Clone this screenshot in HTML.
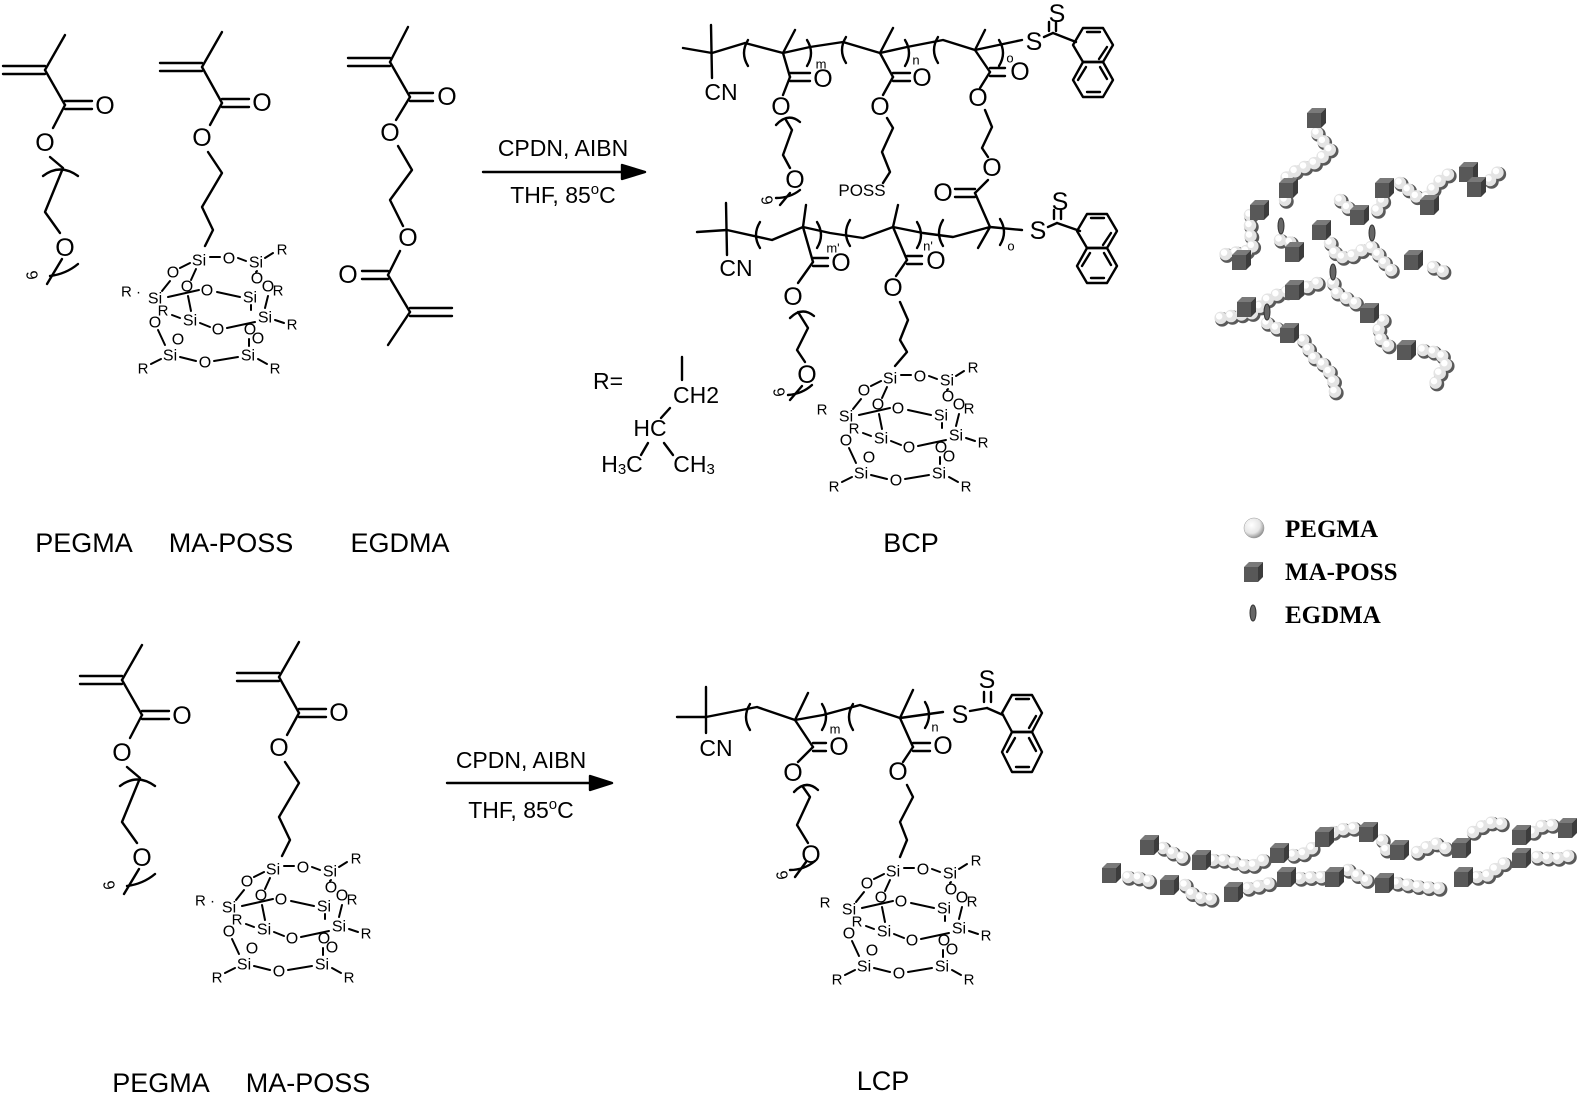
<!DOCTYPE html>
<html><head><meta charset="utf-8"><style>
html,body{margin:0;padding:0;background:#fff;}
svg{display:block;}
text{font-family:"Liberation Sans",sans-serif;fill:#000;}
.b line,.b polyline,.b path,.b polygon{stroke:#000;stroke-width:2.4;fill:none;stroke-linecap:round;stroke-linejoin:round;}
.a{font-size:25px;text-anchor:middle;dominant-baseline:central;}
.s{font-size:16px;text-anchor:middle;dominant-baseline:central;}
.r{font-size:15px;text-anchor:middle;dominant-baseline:central;}
.sub{font-size:13px;text-anchor:middle;dominant-baseline:central;}
.lab{font-size:27px;text-anchor:middle;}
.leg{font-family:"Liberation Serif",serif;font-weight:bold;font-size:25px;}
.cage line{stroke-width:2;}
</style></head><body>
<svg width="1596" height="1097" viewBox="0 0 1596 1097" xmlns="http://www.w3.org/2000/svg">
<defs>
<radialGradient id="sg" cx="0.38" cy="0.35" r="0.7">
<stop offset="0" stop-color="#fff"/><stop offset="0.6" stop-color="#e6e6e6"/><stop offset="1" stop-color="#888"/>
</radialGradient>
<g id="cube">
<polygon points="-8,-5 -3,-10 11,-10 6,-5" fill="#7a7a7a"/>
<polygon points="6,-5 11,-10 11,5 6,10" fill="#3c3c3c"/>
<rect x="-8" y="-5" width="14" height="15" fill="#585858"/>
</g>
<g id="egd"><ellipse cx="0" cy="0" rx="3" ry="8" fill="#666" stroke="#333" stroke-width="1"/></g>
</defs>

<g class="b">
<g id="peg">
<line x1="65" y1="35" x2="45" y2="70"/>
<line x1="3" y1="66" x2="45" y2="66"/><line x1="3" y1="74" x2="45" y2="74"/>
<line x1="45" y1="70" x2="65" y2="105"/>
<line x1="65" y1="101" x2="92" y2="101"/><line x1="65" y1="109" x2="92" y2="109"/>
<line x1="65" y1="105" x2="53" y2="128"/>
<polyline points="50,157 63,168 45,212 60,233"/>
<path d="M43,176 Q60,163 78,176"/>
<line x1="62" y1="259" x2="47" y2="284"/>
<path d="M50,276 Q66,274 78,264"/>
</g>
<g id="map">
<line x1="222" y1="32" x2="202" y2="67"/>
<line x1="160" y1="63" x2="202" y2="63"/><line x1="160" y1="71" x2="202" y2="71"/>
<line x1="202" y1="67" x2="222" y2="103"/>
<line x1="222" y1="99" x2="249" y2="99"/><line x1="222" y1="107" x2="249" y2="107"/>
<line x1="222" y1="103" x2="210" y2="125"/>
<polyline points="208,152 222,173 202,207 213,230 205,246"/>
</g>
<line x1="408" y1="27" x2="390" y2="62"/>
<line x1="348" y1="58" x2="390" y2="58"/><line x1="348" y1="66" x2="390" y2="66"/>
<line x1="390" y1="62" x2="410" y2="97"/>
<line x1="410" y1="93" x2="433" y2="93"/><line x1="410" y1="101" x2="433" y2="101"/>
<line x1="410" y1="97" x2="396" y2="120"/>
<polyline points="398,146 412,170 390,200 403,226"/>
<line x1="400" y1="251" x2="388" y2="275"/>
<line x1="362" y1="271" x2="388" y2="271"/><line x1="362" y1="279" x2="388" y2="279"/>
<line x1="388" y1="275" x2="410" y2="312"/>
<line x1="410" y1="308" x2="452" y2="308"/><line x1="410" y1="316" x2="452" y2="316"/>
<line x1="410" y1="312" x2="388" y2="345"/>

<line x1="483" y1="172" x2="630" y2="172"/>
<polygon points="645,172 622,165 622,179" style="fill:#000"/>
<line x1="447" y1="783" x2="595" y2="783"/>
<polygon points="612,783 590,776 590,790" style="fill:#000"/>

<line x1="683" y1="48" x2="712" y2="53"/>
<line x1="711" y1="25" x2="712" y2="78"/>
<polyline points="712,53 745,43 783,53 810,47 843,42 880,53 907,47 943,40 975,50 1022,40"/>
<line x1="783" y1="53" x2="795" y2="30"/>
<line x1="880" y1="53" x2="893" y2="28"/>
<line x1="975" y1="50" x2="985" y2="30"/>
<path d="M748,40 Q740,53 748,66"/><path d="M807,40 Q815,53 807,66"/>
<path d="M846,37 Q838,50 846,63"/><path d="M905,40 Q913,53 905,66"/>
<path d="M938,37 Q930,50 938,63"/><path d="M999,40 Q1007,53 999,66"/>
<line x1="1044" y1="37" x2="1053" y2="33"/>
<line x1="1053" y1="33" x2="1076" y2="42"/>
<line x1="1049" y1="22" x2="1049" y2="31"/><line x1="1056" y1="22" x2="1056" y2="31"/>
<polygon points="1073,45 1083,28 1103,28 1113,45 1103,62 1083,62"/>
<polygon points="1073,80 1083,62 1103,62 1113,80 1103,97 1083,97"/>
<line x1="1087" y1="32" x2="1100" y2="32"/><line x1="1107" y1="47" x2="1099" y2="59"/>
<line x1="1078" y1="80" x2="1086" y2="67"/><line x1="1087" y1="92" x2="1100" y2="92"/><line x1="1107" y1="79" x2="1100" y2="67"/>
<line x1="783" y1="53" x2="790" y2="77"/>
<line x1="790" y1="73" x2="810" y2="73"/><line x1="790" y1="81" x2="810" y2="81"/>
<line x1="790" y1="77" x2="783" y2="95"/>
<polyline points="786,120 792,130 783,155 790,168"/>
<path d="M776,125 Q788,112 800,122"/>
<path d="M776,198 Q790,198 800,190"/><line x1="790" y1="193" x2="780" y2="205"/>
<line x1="880" y1="53" x2="893" y2="77"/>
<line x1="893" y1="73" x2="910" y2="73"/><line x1="893" y1="81" x2="910" y2="81"/>
<line x1="893" y1="77" x2="883" y2="95"/>
<polyline points="887,118 893,128 882,152 890,172 883,183"/>
<line x1="975" y1="50" x2="990" y2="72"/>
<line x1="990" y1="68" x2="1005" y2="68"/><line x1="990" y1="76" x2="1005" y2="76"/>
<line x1="990" y1="72" x2="980" y2="88"/>
<polyline points="985,110 992,127 982,148 988,157"/>
<line x1="988" y1="180" x2="975" y2="193"/>
<line x1="955" y1="189" x2="975" y2="189"/><line x1="955" y1="197" x2="975" y2="197"/>
<line x1="975" y1="193" x2="990" y2="227"/>
<line x1="697" y1="232" x2="727" y2="230"/>
<line x1="726" y1="203" x2="727" y2="255"/>
<polyline points="727,230 772,240 803,227 830,233 863,238 893,227 923,233 953,237 990,227 1022,230"/>
<line x1="803" y1="227" x2="806" y2="205"/>
<line x1="893" y1="227" x2="898" y2="205"/>
<line x1="990" y1="227" x2="978" y2="248"/>
<path d="M760,222 Q752,235 760,248"/><path d="M817,222 Q825,235 817,248"/>
<path d="M850,220 Q842,233 850,246"/><path d="M917,222 Q925,235 917,248"/>
<path d="M943,220 Q935,233 943,246"/><path d="M1000,219 Q1008,232 1000,245"/>
<line x1="1048" y1="227" x2="1057" y2="223"/>
<line x1="1057" y1="223" x2="1080" y2="231"/>
<line x1="1054" y1="210" x2="1054" y2="219"/><line x1="1061" y1="210" x2="1061" y2="219"/>
<polygon points="1077,231 1087,214 1107,214 1117,231 1107,248 1087,248"/>
<polygon points="1077,266 1087,248 1107,248 1117,266 1107,283 1087,283"/>
<line x1="1091" y1="218" x2="1104" y2="218"/><line x1="1111" y1="233" x2="1103" y2="245"/>
<line x1="1082" y1="266" x2="1090" y2="253"/><line x1="1091" y1="278" x2="1104" y2="278"/><line x1="1111" y1="265" x2="1104" y2="253"/>
<line x1="803" y1="227" x2="813" y2="262"/>
<line x1="813" y1="258" x2="828" y2="258"/><line x1="813" y1="266" x2="828" y2="266"/>
<line x1="813" y1="262" x2="798" y2="283"/>
<polyline points="798,312 808,328 797,350 805,362"/>
<path d="M790,318 Q802,306 814,316"/>
<path d="M788,395 Q802,394 812,385"/><line x1="802" y1="386" x2="790" y2="400"/>
<line x1="893" y1="227" x2="907" y2="260"/>
<line x1="907" y1="256" x2="922" y2="256"/><line x1="907" y1="264" x2="922" y2="264"/>
<line x1="907" y1="260" x2="896" y2="276"/>
<polyline points="900,302 908,320 900,340 907,352 895,366"/>
<line x1="682" y1="357" x2="682" y2="380"/>
<line x1="670" y1="408" x2="661" y2="418"/>
<line x1="648" y1="443" x2="641" y2="455"/>
<line x1="664" y1="443" x2="673" y2="455"/>

<g transform="translate(77,610)">
<line x1="65" y1="35" x2="45" y2="70"/>
<line x1="3" y1="66" x2="45" y2="66"/><line x1="3" y1="74" x2="45" y2="74"/>
<line x1="45" y1="70" x2="65" y2="105"/>
<line x1="65" y1="101" x2="92" y2="101"/><line x1="65" y1="109" x2="92" y2="109"/>
<line x1="65" y1="105" x2="53" y2="128"/>
<polyline points="50,157 63,168 45,212 60,233"/>
<path d="M43,176 Q60,163 78,176"/>
<line x1="62" y1="259" x2="47" y2="284"/>
<path d="M50,276 Q66,274 78,264"/>
<line x1="222" y1="32" x2="202" y2="67"/>
<line x1="160" y1="63" x2="202" y2="63"/><line x1="160" y1="71" x2="202" y2="71"/>
<line x1="202" y1="67" x2="222" y2="103"/>
<line x1="222" y1="99" x2="249" y2="99"/><line x1="222" y1="107" x2="249" y2="107"/>
<line x1="222" y1="103" x2="210" y2="125"/>
<polyline points="208,152 222,173 202,207 213,230 205,246"/>
</g>

<line x1="677" y1="717" x2="706" y2="717"/>
<line x1="706" y1="687" x2="706" y2="733"/>
<polyline points="706,717 757,707 795,720 823,715 860,705 900,718 943,712"/>
<line x1="795" y1="720" x2="808" y2="693"/>
<line x1="900" y1="718" x2="913" y2="690"/>
<path d="M750,704 Q742,717 750,730"/><path d="M822,704 Q830,717 822,730"/>
<path d="M853,704 Q845,717 853,730"/><path d="M925,702 Q933,715 925,728"/>
<line x1="970" y1="711" x2="987" y2="708"/>
<line x1="987" y1="708" x2="1003" y2="715"/>
<line x1="984" y1="692" x2="984" y2="702"/><line x1="991" y1="692" x2="991" y2="702"/>
<polygon points="1002,713 1012,695 1032,695 1042,713 1032,732 1012,732"/>
<polygon points="1002,752 1012,732 1032,732 1042,752 1032,772 1012,772"/>
<line x1="1016" y1="699" x2="1029" y2="699"/><line x1="1036" y1="716" x2="1029" y2="728"/>
<line x1="1007" y1="752" x2="1015" y2="738"/><line x1="1016" y1="767" x2="1029" y2="767"/><line x1="1036" y1="751" x2="1029" y2="738"/>
<line x1="795" y1="720" x2="813" y2="747"/>
<line x1="813" y1="743" x2="826" y2="743"/><line x1="813" y1="751" x2="826" y2="751"/>
<line x1="813" y1="747" x2="798" y2="762"/>
<polyline points="803,787 810,797 797,825 808,843"/>
<path d="M794,792 Q806,779 818,790"/>
<path d="M790,870 Q804,870 815,861"/><line x1="806" y1="862" x2="795" y2="877"/>
<line x1="900" y1="718" x2="913" y2="747"/>
<line x1="913" y1="743" x2="930" y2="743"/><line x1="913" y1="751" x2="930" y2="751"/>
<line x1="913" y1="747" x2="903" y2="762"/>
<polyline points="907,785 913,797 900,822 907,840 900,857"/>
</g>

<text class="a" x="105" y="106">O</text><text class="a" x="45" y="143">O</text><text class="a" x="65" y="248">O</text>
<text class="s" x="33" y="275" transform="rotate(-100 33 275)">6</text>
<text class="a" x="262" y="103">O</text><text class="a" x="202" y="138">O</text>
<text class="a" x="447" y="97">O</text><text class="a" x="390" y="133">O</text><text class="a" x="408" y="238">O</text><text class="a" x="348" y="275">O</text>
<g transform="translate(77,610)">
<text class="a" x="105" y="106">O</text><text class="a" x="45" y="143">O</text><text class="a" x="65" y="248">O</text>
<text class="s" x="33" y="275" transform="rotate(-100 33 275)">6</text>
<text class="a" x="262" y="103">O</text><text class="a" x="202" y="138">O</text>
</g>
<text x="563" y="156" style="font-size:23px;text-anchor:middle">CPDN, AIBN</text>
<text x="563" y="203" style="font-size:23px;text-anchor:middle">THF, 85<tspan dy="-9" style="font-size:15px">o</tspan><tspan dy="9">C</tspan></text>
<text x="521" y="768" style="font-size:23px;text-anchor:middle">CPDN, AIBN</text>
<text x="521" y="818" style="font-size:23px;text-anchor:middle">THF, 85<tspan dy="-9" style="font-size:15px">o</tspan><tspan dy="9">C</tspan></text>

<text class="a" x="721" y="92" style="font-size:23px">CN</text>
<text class="sub" x="821" y="64">m</text><text class="sub" x="916" y="60">n</text><text class="sub" x="1010" y="58">o</text>
<text class="a" x="1034" y="42">S</text><text class="a" x="1057" y="14">S</text>
<text class="a" x="823" y="79">O</text><text class="a" x="781" y="107">O</text><text class="a" x="795" y="180">O</text>
<text class="s" x="768" y="200" transform="rotate(-100 768 200)">6</text>
<text class="a" x="922" y="78">O</text><text class="a" x="880" y="107">O</text>
<text x="862" y="196" style="font-size:17px;text-anchor:middle">POSS</text>
<text class="a" x="1020" y="72">O</text><text class="a" x="978" y="98">O</text><text class="a" x="992" y="168">O</text><text class="a" x="943" y="193">O</text>
<text class="a" x="736" y="268" style="font-size:23px">CN</text>
<text class="sub" x="833" y="248">m'</text><text class="sub" x="928" y="246">n'</text><text class="sub" x="1011" y="246">o</text>
<text class="a" x="1038" y="231">S</text><text class="a" x="1060" y="202">S</text>
<text class="a" x="841" y="263">O</text><text class="a" x="793" y="297">O</text><text class="a" x="807" y="375">O</text>
<text class="s" x="780" y="392" transform="rotate(-100 780 392)">6</text>
<text class="a" x="936" y="261">O</text><text class="a" x="893" y="288">O</text>
<text class="a" x="608" y="381" style="font-size:23px">R=</text>
<text class="a" x="696" y="395" style="font-size:23px">CH2</text>
<text class="a" x="650" y="428" style="font-size:23px">HC</text>
<text class="a" x="622" y="464" style="font-size:23px">H<tspan dy="5" style="font-size:15px">3</tspan><tspan dy="-5">C</tspan></text>
<text class="a" x="694" y="464" style="font-size:23px">CH<tspan dy="5" style="font-size:15px">3</tspan></text>
<text class="a" x="716" y="748" style="font-size:23px">CN</text>
<text class="sub" x="835" y="729">m</text><text class="sub" x="935" y="727">n</text>
<text class="a" x="960" y="715">S</text><text class="a" x="987" y="680">S</text>
<text class="a" x="839" y="747">O</text><text class="a" x="793" y="773">O</text><text class="a" x="811" y="855">O</text>
<text class="s" x="783" y="875" transform="rotate(-100 783 875)">6</text>
<text class="a" x="943" y="746">O</text><text class="a" x="898" y="772">O</text>

<g class="b cage" transform="translate(199,257)" id="cage1">
<line x1="11" y1="0" x2="21" y2="0"/><line x1="39" y1="1" x2="47" y2="4"/><line x1="66" y1="1" x2="74" y2="-4"/>
<line x1="-9" y1="6" x2="-19" y2="11"/><line x1="-3" y1="12" x2="-8" y2="23"/>
<line x1="-29" y1="24" x2="-37" y2="34"/><line x1="-31" y1="40" x2="0" y2="33"/>
<line x1="-11" y1="39" x2="-8" y2="54"/><line x1="18" y1="35" x2="41" y2="40"/>
<line x1="58" y1="14" x2="57" y2="15"/><line x1="52" y1="48" x2="52" y2="53"/>
<line x1="66" y1="51" x2="69" y2="39"/><line x1="1" y1="66" x2="11" y2="70"/>
<line x1="28" y1="71" x2="56" y2="65"/><line x1="-19" y1="61" x2="-27" y2="58"/>
<line x1="-41" y1="73" x2="-34" y2="88"/><line x1="-19" y1="100" x2="-3" y2="104"/>
<line x1="15" y1="104" x2="39" y2="100"/><line x1="50" y1="89" x2="50" y2="82"/>
<line x1="-38" y1="102" x2="-48" y2="107"/><line x1="59" y1="102" x2="68" y2="107"/>
<line x1="76" y1="63" x2="85" y2="66"/>
</g>
<g transform="translate(199,257)">
<text class="s" x="0" y="4">Si</text><text class="s" x="30" y="2">O</text><text class="s" x="57" y="6">Si</text><text class="r" x="83" y="-7">R</text>
<text class="s" x="-26" y="16">O</text><text class="s" x="-12" y="30">O</text><text class="s" x="8" y="34">O</text>
<text class="s" x="58" y="22">O</text><text class="s" x="69" y="30">O</text><text class="r" x="79" y="34">R</text>
<text class="s" x="51" y="41">Si</text><text class="r" x="-68" y="35">R ·</text><text class="s" x="-44" y="42">Si</text>
<text class="r" x="-36" y="54">R</text><text class="s" x="-9" y="64">Si</text><text class="s" x="19" y="73">O</text>
<text class="s" x="66" y="61">Si</text><text class="r" x="93" y="68">R</text>
<text class="s" x="-44" y="66">O</text><text class="s" x="-21" y="83">O</text><text class="s" x="51" y="73">O</text><text class="s" x="59" y="82">O</text>
<text class="s" x="-29" y="99">Si</text><text class="s" x="6" y="106">O</text><text class="s" x="49" y="99">Si</text>
<text class="r" x="-56" y="112">R</text><text class="r" x="76" y="112">R</text>
</g>
<use href="#cage1" transform="translate(691,118)"/>
<use href="#cage1" transform="translate(694,611)"/>
<use href="#cage1" transform="translate(74,609)"/>
<g transform="translate(890,375)">
<text class="s" x="0" y="4">Si</text><text class="s" x="30" y="2">O</text><text class="s" x="57" y="6">Si</text><text class="r" x="83" y="-7">R</text>
<text class="s" x="-26" y="16">O</text><text class="s" x="-12" y="30">O</text><text class="s" x="8" y="34">O</text>
<text class="s" x="58" y="22">O</text><text class="s" x="69" y="30">O</text><text class="r" x="79" y="34">R</text>
<text class="s" x="51" y="41">Si</text><text class="r" x="-68" y="35">R</text><text class="s" x="-44" y="42">Si</text>
<text class="r" x="-36" y="54">R</text><text class="s" x="-9" y="64">Si</text><text class="s" x="19" y="73">O</text>
<text class="s" x="66" y="61">Si</text><text class="r" x="93" y="68">R</text>
<text class="s" x="-44" y="66">O</text><text class="s" x="-21" y="83">O</text><text class="s" x="51" y="73">O</text><text class="s" x="59" y="82">O</text>
<text class="s" x="-29" y="99">Si</text><text class="s" x="6" y="106">O</text><text class="s" x="49" y="99">Si</text>
<text class="r" x="-56" y="112">R</text><text class="r" x="76" y="112">R</text>
</g>
<g transform="translate(893,868)">
<text class="s" x="0" y="4">Si</text><text class="s" x="30" y="2">O</text><text class="s" x="57" y="6">Si</text><text class="r" x="83" y="-7">R</text>
<text class="s" x="-26" y="16">O</text><text class="s" x="-12" y="30">O</text><text class="s" x="8" y="34">O</text>
<text class="s" x="58" y="22">O</text><text class="s" x="69" y="30">O</text><text class="r" x="79" y="34">R</text>
<text class="s" x="51" y="41">Si</text><text class="r" x="-68" y="35">R</text><text class="s" x="-44" y="42">Si</text>
<text class="r" x="-36" y="54">R</text><text class="s" x="-9" y="64">Si</text><text class="s" x="19" y="73">O</text>
<text class="s" x="66" y="61">Si</text><text class="r" x="93" y="68">R</text>
<text class="s" x="-44" y="66">O</text><text class="s" x="-21" y="83">O</text><text class="s" x="51" y="73">O</text><text class="s" x="59" y="82">O</text>
<text class="s" x="-29" y="99">Si</text><text class="s" x="6" y="106">O</text><text class="s" x="49" y="99">Si</text>
<text class="r" x="-56" y="112">R</text><text class="r" x="76" y="112">R</text>
</g>
<g transform="translate(273,866)">
<text class="s" x="0" y="4">Si</text><text class="s" x="30" y="2">O</text><text class="s" x="57" y="6">Si</text><text class="r" x="83" y="-7">R</text>
<text class="s" x="-26" y="16">O</text><text class="s" x="-12" y="30">O</text><text class="s" x="8" y="34">O</text>
<text class="s" x="58" y="22">O</text><text class="s" x="69" y="30">O</text><text class="r" x="79" y="34">R</text>
<text class="s" x="51" y="41">Si</text><text class="r" x="-68" y="35">R ·</text><text class="s" x="-44" y="42">Si</text>
<text class="r" x="-36" y="54">R</text><text class="s" x="-9" y="64">Si</text><text class="s" x="19" y="73">O</text>
<text class="s" x="66" y="61">Si</text><text class="r" x="93" y="68">R</text>
<text class="s" x="-44" y="66">O</text><text class="s" x="-21" y="83">O</text><text class="s" x="51" y="73">O</text><text class="s" x="59" y="82">O</text>
<text class="s" x="-29" y="99">Si</text><text class="s" x="6" y="106">O</text><text class="s" x="49" y="99">Si</text>
<text class="r" x="-56" y="112">R</text><text class="r" x="76" y="112">R</text>
</g>

<text class="lab" x="84" y="552">PEGMA</text>
<text class="lab" x="231" y="552">MA-POSS</text>
<text class="lab" x="400" y="552">EGDMA</text>
<text class="lab" x="911" y="552">BCP</text>
<text class="lab" x="161" y="1092">PEGMA</text>
<text class="lab" x="308" y="1092">MA-POSS</text>
<text class="lab" x="883" y="1090">LCP</text>

<g fill="none" stroke-linecap="round" stroke-linejoin="round">
<g id="beads">
<path d="M1317,133 L1330,150 L1317,162 L1297,170 L1283,180 M1250,215 L1250,233 L1253,250 L1233,253 L1220,255 M1280,240 L1300,245 M1330,243 L1337,257 L1350,257 L1367,247 L1373,247 L1380,257 L1390,270 L1400,270 M1340,200 L1350,210 M1377,210 L1383,200 M1400,183 L1417,197 L1427,197 L1437,183 L1450,173 M1490,180 L1498,172 M1433,267 L1447,273 M1317,283 L1307,287 L1280,293 L1267,300 L1253,313 L1237,315 L1220,318 M1267,323 L1280,330 M1303,340 L1313,357 L1327,367 L1333,380 L1335,392 M1333,283 L1337,293 L1350,300 L1363,307 M1383,320 L1377,333 L1383,343 L1393,348 M1423,350 L1440,353 L1447,363 L1437,377 L1433,392 M1285,200 L1285,202"/>
<path d="M1163,848 L1177,855 L1188,860 M1213,860 L1227,860 L1250,867 L1263,860 M1293,855 L1307,853 L1313,847 M1333,832 L1347,828 L1357,828 M1382,840 L1387,852 M1417,852 L1427,847 L1438,843 L1448,850 M1473,832 L1487,823 L1500,822 L1507,832 M1533,832 L1543,825 L1555,825 M1128,877 L1143,878 L1153,883 M1185,885 L1193,895 L1207,900 L1218,897 M1248,888 L1263,885 L1273,882 M1300,878 L1313,877 L1327,877 M1348,870 L1360,877 L1372,883 M1397,883 L1410,885 L1423,887 L1435,888 L1448,888 M1477,877 L1490,875 L1497,867 L1510,860 M1537,857 L1550,858 L1563,858 L1577,852"/>
</g>
</g>
<g fill="none" stroke-linecap="round" stroke-dasharray="0 10.5">
<use href="#beads" stroke="#5a5a5a" stroke-width="14.5" transform="translate(1.5,1.5)"/>
<use href="#beads" stroke="#e4e4e4" stroke-width="12.5"/>
<use href="#beads" stroke="#ffffff" stroke-width="6.5" transform="translate(-1.5,-1.5)"/>
</g>
<use href="#egd" x="1281" y="226"/><use href="#egd" x="1372" y="233"/><use href="#egd" x="1333" y="272"/><use href="#egd" x="1267" y="312"/>
<use href="#cube" x="1315" y="118"/><use href="#cube" x="1287" y="188"/><use href="#cube" x="1258" y="210"/><use href="#cube" x="1240" y="260"/>
<use href="#cube" x="1293" y="252"/><use href="#cube" x="1320" y="230"/><use href="#cube" x="1358" y="215"/><use href="#cube" x="1383" y="188"/>
<use href="#cube" x="1428" y="205"/><use href="#cube" x="1467" y="172"/><use href="#cube" x="1475" y="187"/><use href="#cube" x="1412" y="260"/>
<use href="#cube" x="1293" y="290"/><use href="#cube" x="1245" y="307"/><use href="#cube" x="1288" y="333"/><use href="#cube" x="1368" y="313"/><use href="#cube" x="1405" y="350"/>
<use href="#cube" x="1148" y="845"/><use href="#cube" x="1200" y="860"/><use href="#cube" x="1278" y="853"/><use href="#cube" x="1323" y="837"/><use href="#cube" x="1367" y="832"/>
<use href="#cube" x="1398" y="850"/><use href="#cube" x="1460" y="848"/><use href="#cube" x="1520" y="835"/><use href="#cube" x="1566" y="828"/>
<use href="#cube" x="1110" y="873"/><use href="#cube" x="1168" y="885"/><use href="#cube" x="1232" y="892"/><use href="#cube" x="1285" y="877"/>
<use href="#cube" x="1333" y="877"/><use href="#cube" x="1383" y="883"/><use href="#cube" x="1462" y="877"/><use href="#cube" x="1520" y="858"/>

<circle cx="1254" cy="528" r="10" fill="url(#sg)" stroke="#999" stroke-width="0.5"/>
<use href="#cube" x="1252" y="572"/>
<use href="#egd" x="1253" y="613"/>
<text class="leg" x="1285" y="537">PEGMA</text>
<text class="leg" x="1285" y="580">MA-POSS</text>
<text class="leg" x="1285" y="623">EGDMA</text>
</svg>
</body></html>
